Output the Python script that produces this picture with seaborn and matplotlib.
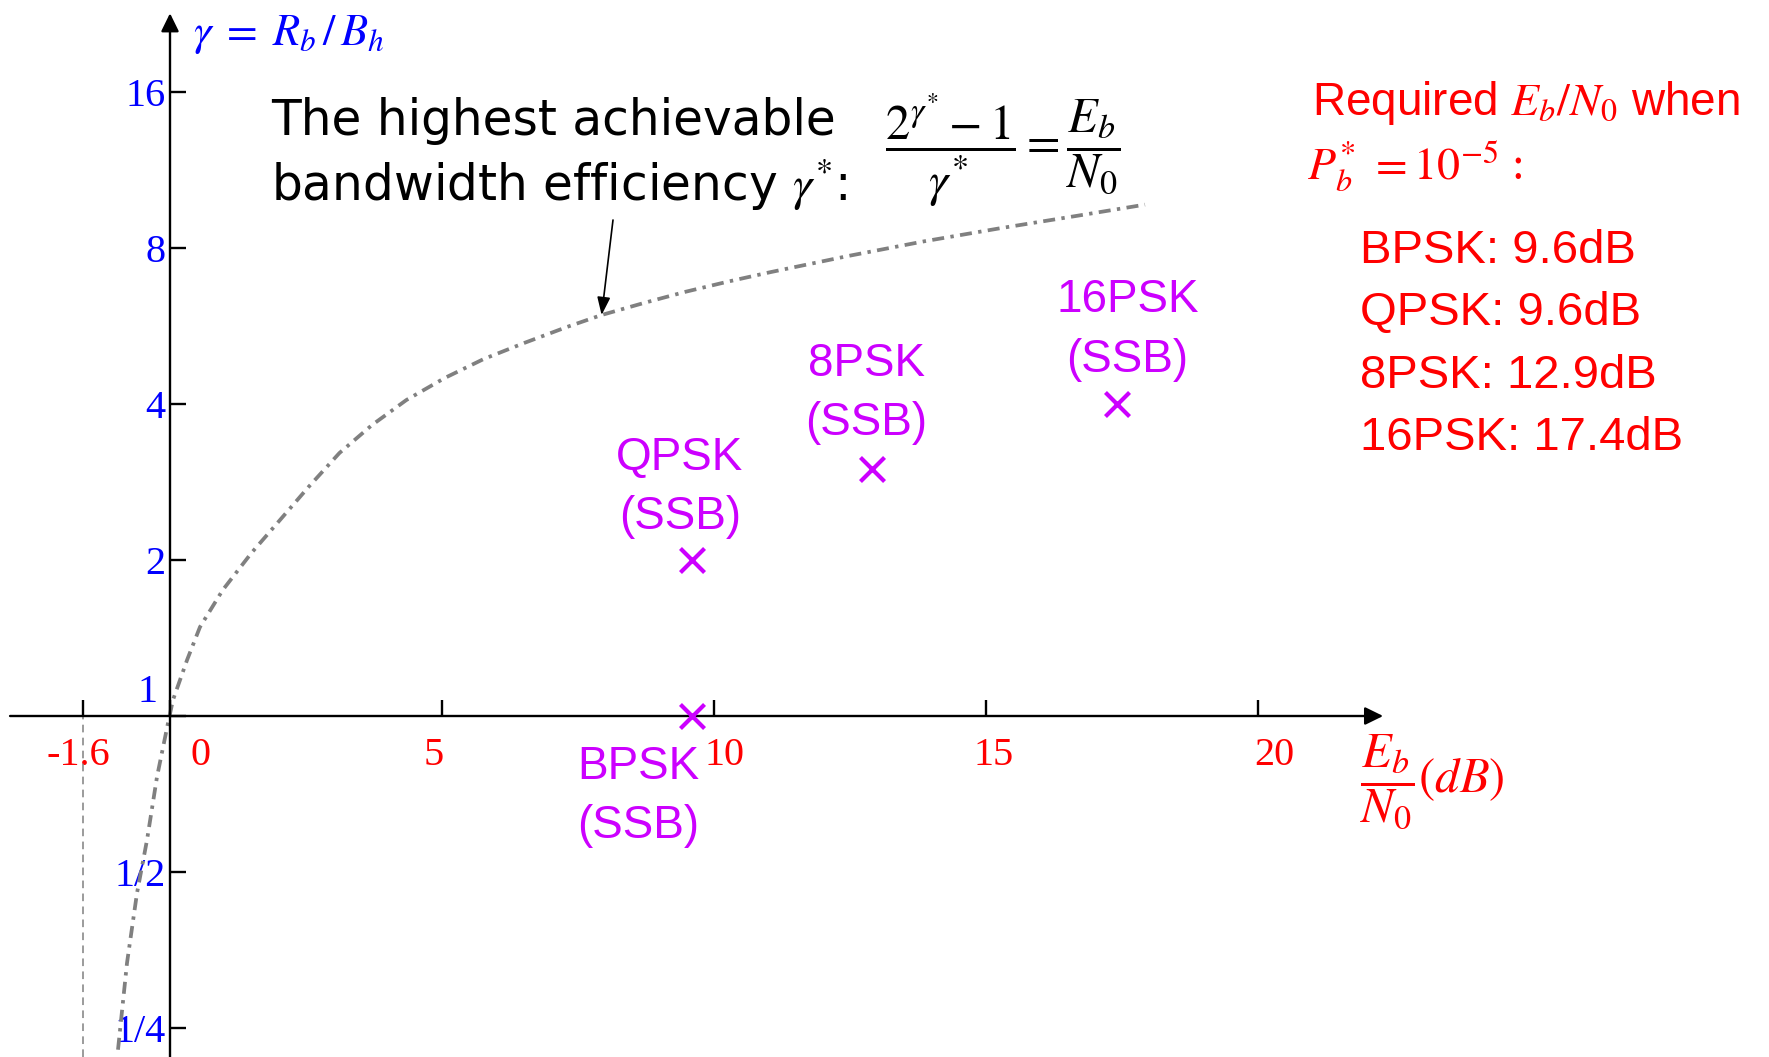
import matplotlib
matplotlib.use("Agg")
import matplotlib.pyplot as plt
from matplotlib.transforms import ScaledTranslation
import seaborn as sns

# Capacity limit: traced points (Eb/N0 in dB, bandwidth efficiency in bit/s/Hz)
limit_ebn0_db = [-0.956, -0.790, -0.607, -0.423, -0.239, -0.037, 0.055, 0.313,
                 0.551, 0.969, 1.496, 2.022, 2.551, 3.114, 3.713, 4.346, 5.050,
                 5.767, 6.526, 7.298, 7.934, 8.708, 9.482, 10.256, 11.048,
                 12.463, 13.860, 15.276, 16.673, 17.923]
limit_gamma = [0.227, 0.334, 0.455, 0.576, 0.763, 0.969, 1.074, 1.282,
               1.485, 1.750, 2.063, 2.389, 2.770, 3.217, 3.643, 4.072, 4.490,
               4.885, 5.253, 5.633, 5.940, 6.265, 6.588, 6.890, 7.190,
               7.720, 8.240, 8.740, 9.230, 9.700]
arrow_point = 20                 # index of the curve point the note arrow hits
asymptote_db = -1.6              # Eb/N0 limit as gamma -> 0

# Modulation schemes at Pb = 1e-5
psk_names = ["BPSK", "QPSK", "8PSK", "16PSK"]
psk_ebn0_db = [9.6, 9.6, 12.9, 17.4]
psk_gamma = [1, 2, 3, 4]

x_ticks = [-1.6, 0, 5, 10, 15, 20]
x_tick_labels = ["-1.6", "0", "5", "10", "15", "20"]
y_ticks = [0.25, 0.5, 1, 2, 4, 8, 16]
y_tick_labels = ["1/4", "1/2", "1", "2", "4", "8", "16"]

sns.set_theme(style="white")
plt.rcParams["font.family"] = ["DejaVu Sans"]
plt.rcParams["mathtext.fontset"] = "stix"

MAGENTA = "#CC00FF"
GREY = "#808080"
SERIF = "Liberation Serif"
SANS = "Liberation Sans"

W, H, DPI = 1769, 1057, 100
PX_DB, PX_OCT = 54.4, 156.0      # scale: pixels per dB, pixels per octave
X0, Y0 = 170, 716                # pixel position of the axes' crossing point

fig = plt.figure(figsize=(W / DPI, H / DPI), dpi=DPI)
fig.patch.set_facecolor("white")
ax = fig.add_axes([0, 0, 1, 1])
ax.set_facecolor("white")
ax.set_yscale("log", base=2)

x_lo, x_hi = -X0 / PX_DB, (W - X0) / PX_DB
y_lo, y_hi = 2 ** (-(H - Y0) / PX_OCT), 2 ** (Y0 / PX_OCT)


def px(x):
    return x / W


def py(y):
    return 1 - y / H


# Capacity limit curve
sns.lineplot(x=limit_ebn0_db, y=limit_gamma, sort=False, errorbar=None,
             color=GREY, linewidth=2.7, ax=ax, zorder=3)
ax.lines[-1].set_dashes([3.2, 1.7, 0.9, 1.7])

# -1.6 dB asymptote
ax.plot([asymptote_db, asymptote_db], [y_lo, 1], color=GREY, lw=1.1,
        dashes=(5, 3.5), zorder=2)

# PSK operating points
sns.scatterplot(x=psk_ebn0_db, y=psk_gamma, marker="x", s=300, color=MAGENTA,
                linewidth=3.0, ax=ax, zorder=5)

label_offsets = {"BPSK": (-39, -21), "QPSK": (-9, 15),
                 "8PSK": (-4, 17), "16PSK": (8, 16)}
for name, xv, yv in zip(psk_names, psk_ebn0_db, psk_gamma):
    dx, dy = label_offsets[name]
    ax.annotate(f"{name}\n(SSB)", (xv, yv), xytext=(dx, dy),
                textcoords="offset points", ha="center",
                va="top" if dy < 0 else "bottom", color=MAGENTA,
                fontsize=33, family=SANS, linespacing=1.45, zorder=6)

# Axis lines with arrowheads
head = "-|>,head_length=0.55,head_width=0.27"
ax.annotate("", xy=(22.3, 1), xytext=(-2.94, 1),
            arrowprops=dict(arrowstyle=head, color="black", lw=1.7,
                            shrinkA=0, shrinkB=0, mutation_scale=20))
ax.annotate("", xy=(0, 22.7), xytext=(0, y_lo),
            arrowprops=dict(arrowstyle=head, color="black", lw=1.7,
                            shrinkA=0, shrinkB=0, mutation_scale=20))

for s in ax.spines.values():
    s.set_visible(False)
ax.spines["left"].set_position(("data", 0))
ax.spines["bottom"].set_position(("data", 1))

ax.set_xlim(x_lo, x_hi)
ax.set_ylim(y_lo, y_hi)
ax.set_xticks(x_ticks, x_tick_labels)
ax.set_yticks(y_ticks, y_tick_labels)
ax.minorticks_off()
ax.grid(False)
ax.tick_params(axis="both", which="major", direction="in", length=11.5,
               width=1.7, color="black", bottom=True, left=True,
               top=False, right=False)
ax.tick_params(axis="x", labelcolor="red", labelsize=29, pad=15)
ax.tick_params(axis="y", labelcolor="blue", labelsize=29, pad=3)

x_shift = {"-1.6": -0.05, "0": 0.30, "5": -0.08, "10": 0.10,
           "15": 0.08, "20": 0.16}
for lab in ax.get_xticklabels():
    lab.set_fontfamily(SERIF)
    lab.set_transform(lab.get_transform() + ScaledTranslation(
        x_shift.get(lab.get_text(), 0), 0, fig.dpi_scale_trans))
for lab in ax.get_yticklabels():
    lab.set_fontfamily(SERIF)
    if lab.get_text() == "1":
        lab.set_transform(lab.get_transform() + ScaledTranslation(
            -0.08, 0.28, fig.dpi_scale_trans))

# Axis titles
fig.text(px(193), py(45), r"$\gamma\;=\;R_b\,/\,B_h$", color="blue",
         fontsize=32, ha="left", va="baseline")
fig.text(px(1360), py(782), r"$\dfrac{E_b}{N_0}(dB)$", color="red",
         fontsize=35, ha="left", va="center")

# Note on the capacity limit
fig.text(px(271), py(135), "The highest achievable", color="black",
         fontsize=35, ha="left", va="baseline")
fig.text(px(271), py(201), r"bandwidth efficiency $\gamma^{*}$:",
         color="black", fontsize=35, ha="left", va="baseline")
fig.text(px(885), py(150),
         r"$\dfrac{2^{\gamma^{*}}-1}{\gamma^{*}}=\dfrac{E_b}{N_0}$",
         color="black", fontsize=35, ha="left", va="center")
ax.annotate("", xy=(limit_ebn0_db[arrow_point], limit_gamma[arrow_point]),
            xytext=(613, H - 220), textcoords="figure pixels",
            arrowprops=dict(arrowstyle="-|>,head_length=0.6,head_width=0.22",
                            color="black", lw=1.2, shrinkA=0, shrinkB=0,
                            mutation_scale=18), zorder=6)

# Required Eb/N0 list
fig.text(px(1312), py(115), r"Required $E_b/N_0$ when", color="red",
         fontsize=33, family=SANS, ha="left", va="baseline")
fig.text(px(1307), py(180), r"$P_b^{*}\ =10^{-5}$ :", color="red",
         fontsize=33, family=SERIF, ha="left", va="baseline")
for i, (name, val) in enumerate(zip(psk_names, psk_ebn0_db)):
    fig.text(px(1360), py(263 + 62.3 * i), f"{name}: {val}dB", color="red",
             fontsize=34, family=SANS, ha="left", va="baseline")

fig.savefig("out.png", dpi=DPI, facecolor="white")
